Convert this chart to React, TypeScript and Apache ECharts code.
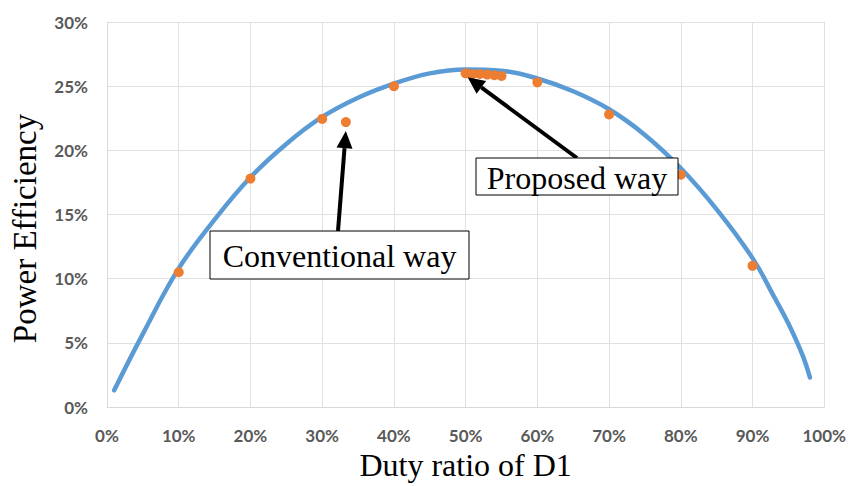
import React, { useEffect, useRef } from "react";
import * as echarts from "echarts";

// Fitted curve (duty ratio %, efficiency %)
const curveDuty = [1, 5, 10, 15, 20, 25, 30, 35, 40, 45, 50, 55, 60, 65, 70, 75, 80, 85, 90, 93, 95, 97, 98];
const curveEff = [1.3, 5.7, 10.8, 14.6, 17.9, 20.5, 22.6, 24.1, 25.2, 26.0, 26.3, 26.2, 25.6, 24.6, 23.2, 21.2, 18.6, 15.4, 11.6, 8.6, 6.5, 4.0, 2.3];

// Measured points
const pointDuty = [10, 20, 30, 33.3, 40, 50, 51, 52, 53, 54, 55, 60, 70, 80, 90];
const pointEff = [10.5, 17.8, 22.45, 22.2, 25.0, 26.0, 25.95, 25.95, 25.9, 25.85, 25.8, 25.3, 22.8, 18.1, 11.0];

const xTicks = [0, 10, 20, 30, 40, 50, 60, 70, 80, 90, 100];
const yTicks = [0, 5, 10, 15, 20, 25, 30];

const annotations = [
  { text: "Conventional way", target: [33.3, 22.2], boxX: 210, boxY: 231, boxW: 259, boxH: 48, tail: [338, 231], tipOffset: [0, 9] },
  { text: "Proposed way", target: [50, 26.0], boxX: 476, boxY: 158, boxW: 202, boxH: 37, tail: [577, 158], tipOffset: [2, 4] },
];

function arrow(x1: number, y1: number, x2: number, y2: number) {
  const dx = x2 - x1, dy = y2 - y1;
  const len = Math.sqrt(dx * dx + dy * dy);
  const ux = dx / len, uy = dy / len;
  const headLen = 17, headW = 8;
  const bx = x2 - ux * headLen, by = y2 - uy * headLen;
  const px = -uy, py = ux;
  return [
    { type: "line", shape: { x1, y1, x2: bx, y2: by }, style: { stroke: "#000", lineWidth: 4 }, z: 100 },
    {
      type: "polygon",
      shape: { points: [[x2, y2], [bx + px * headW, by + py * headW], [bx - px * headW, by - py * headW]] },
      style: { fill: "#000" },
      z: 100,
    },
  ];
}

export default function App() {
  const ref = useRef<HTMLDivElement>(null);
  useEffect(() => {
    document.body.style.margin = "0";
    const chart = echarts.init(ref.current!, null, { renderer: "svg" });
    const labelStyle = { color: "#595959", fontFamily: "Lato", fontWeight: "bold" as const, fontSize: 17 };
    chart.setOption({
      animation: false,
      backgroundColor: "#fff",
      grid: { left: 107, right: 22, top: 22, bottom: 78 },
      xAxis: {
        type: "value",
        min: xTicks[0],
        max: xTicks[xTicks.length - 1],
        interval: 10,
        name: "Duty ratio of D1",
        nameLocation: "middle",
        nameGap: 42,
        nameTextStyle: { fontFamily: "Liberation Serif", fontSize: 32, color: "#000" },
        axisLine: { show: true, lineStyle: { color: "#D9D9D9", width: 1 } },
        axisTick: { show: false },
        axisLabel: { ...labelStyle, margin: 20, formatter: (v: number) => v + "%" },
        splitLine: { show: true, lineStyle: { color: "#E0E0E0", width: 1 } },
      },
      yAxis: {
        type: "value",
        min: yTicks[0],
        max: yTicks[yTicks.length - 1],
        interval: 5,
        name: "Power Efficiency",
        nameLocation: "middle",
        nameGap: 66,
        nameTextStyle: { fontFamily: "Liberation Serif", fontSize: 33, color: "#000", padding: [0, 28, 0, 0] },
        axisLine: { show: true, lineStyle: { color: "#D9D9D9", width: 1 } },
        axisTick: { show: false },
        axisLabel: { ...labelStyle, margin: 19, formatter: (v: number) => v + "%" },
        splitLine: { show: true, lineStyle: { color: "#E0E0E0", width: 1 } },
      },
      series: [
        {
          type: "line",
          data: curveDuty.map((d, i) => [d, curveEff[i]]),
          smooth: 0.4,
          symbol: "none",
          lineStyle: { color: "#5B9BD5", width: 4.5, cap: "round" },
          z: 2,
        },
        {
          type: "scatter",
          data: pointDuty.map((d, i) => [d, pointEff[i]]),
          symbolSize: 10,
          itemStyle: { color: "#ED7D31", opacity: 1 },
          z: 3,
        },
      ],
    });

    const graphics: any[] = [];
    annotations.forEach((a) => {
      const p = chart.convertToPixel({ gridIndex: 0 }, a.target) as number[];
      const tipX = p[0] + a.tipOffset[0];
      const tipY = p[1] + a.tipOffset[1];
      graphics.push(...arrow(a.tail[0], a.tail[1], tipX, tipY));
      graphics.push({
        type: "rect",
        shape: { x: a.boxX, y: a.boxY, width: a.boxW, height: a.boxH },
        style: { fill: "#fff", stroke: "#000", lineWidth: 1 },
        z: 101,
      });
      graphics.push({
        type: "text",
        x: a.boxX + a.boxW / 2,
        y: a.boxY + a.boxH / 2 + 1,
        style: {
          text: a.text,
          fontFamily: "Liberation Serif",
          fontSize: 32,
          fill: "#000",
          align: "center",
          verticalAlign: "middle",
        },
        z: 102,
      });
    });
    chart.setOption({ graphic: graphics });

    return () => chart.dispose();
  }, []);
  return <div ref={ref} style={{ position: "absolute", left: 0, top: 0, width: 849, height: 486 }} />;
}
